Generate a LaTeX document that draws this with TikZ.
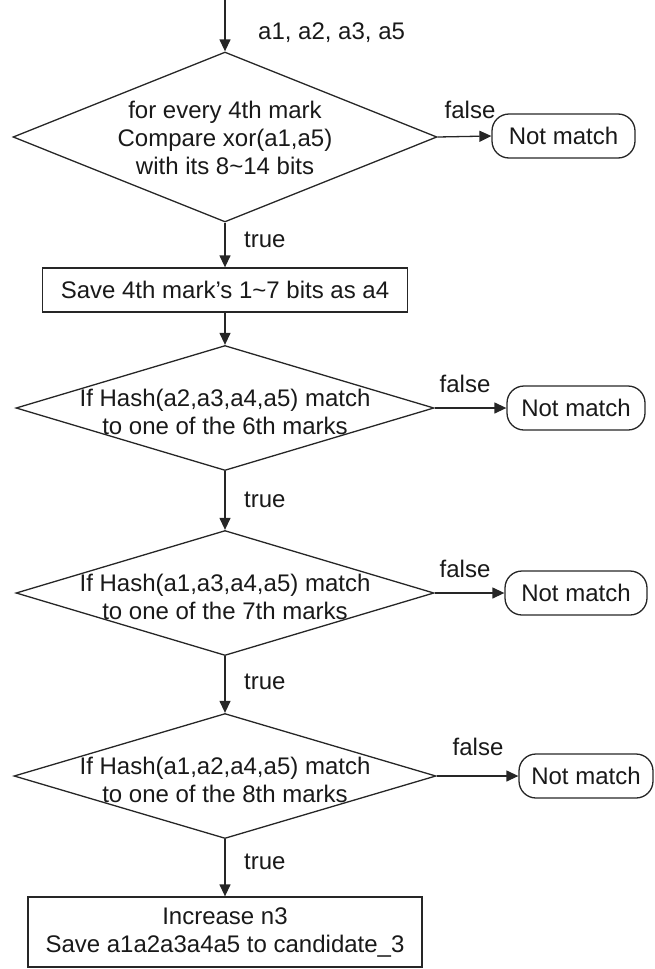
\documentclass[tikz,border=0pt]{standalone}
\usepackage{fontspec}
\setmainfont{Liberation Sans}
\usetikzlibrary{arrows.meta,shapes.geometric}
\begin{document}
\begin{tikzpicture}[x=1pt,y=-1pt,
  every node/.style={font=\fontsize{24}{28}\selectfont, text=black!90},
  line/.style={line width=1.3pt, draw=black!85},
  arr/.style={line, -{Triangle[length=12pt,width=11pt]}},
  decision/.style={diamond, line, inner sep=0pt, minimum width=#1},
  process/.style={rectangle, line, inner sep=0pt},
  terminal/.style={rectangle, line, rounded corners=17pt, inner sep=0pt, minimum height=44pt},
  lbl/.style={inner sep=0pt}
]
\useasboundingbox (0,0) rectangle (655,969);

% entry point
\coordinate (start) at (225,0);
\node[lbl, anchor=west] (inputs) at (258,33) {a1, a2, a3, a5};

% decision 1
\node[decision=424pt, minimum height=170pt] (d1) at (225,137) {};
\node[align=center] (t1) at (225,138) {for every 4th mark\\Compare xor(a1,a5)\\with its 8\textasciitilde14 bits};
\node[terminal, minimum width=143pt] (n1) at (563.5,136) {Not match};
\node[lbl] (f1) at (470,110) {false};

% save a4
\node[process, minimum width=365pt, minimum height=44pt] (s) at (225,290) {Save 4th mark's 1\textasciitilde7 bits as a4};
\node[lbl, anchor=west] (tr1) at (244,240) {true};

% decision 2
\node[decision=418pt, minimum height=125pt] (d2) at (225,408) {};
\node[align=center] (t2) at (225,412) {If Hash(a2,a3,a4,a5) match\\to one of the 6th marks};
\node[terminal, minimum width=138pt] (n2) at (576,408) {Not match};
\node[lbl] (f2) at (465,384) {false};

% decision 3
\node[lbl, anchor=west] (tr2) at (244,500) {true};
\node[decision=418pt, minimum height=125pt] (d3) at (225,593) {};
\node[align=center] (t3) at (225,597) {If Hash(a1,a3,a4,a5) match\\to one of the 7th marks};
\node[terminal, minimum width=142pt] (n3) at (576,593) {Not match};
\node[lbl] (f3) at (465,569) {false};

% decision 4
\node[lbl, anchor=west] (tr3) at (244,682) {true};
\node[decision=422pt, minimum height=125pt] (d4) at (225,776) {};
\node[align=center] (t4) at (225,780) {If Hash(a1,a2,a4,a5) match\\to one of the 8th marks};
\node[terminal, minimum width=134pt] (n4) at (586,776) {Not match};
\node[lbl] (f4) at (478,747) {false};

% final result
\node[lbl, anchor=west] (tr4) at (244,862) {true};
\node[process, minimum width=394pt, minimum height=70pt, align=center] (fin) at (225,932) {Increase n3\\Save a1a2a3a4a5 to candidate\_3};

% connectors
\draw[arr] (start) -- (d1.north);
\draw[arr] (d1.east) -- (n1.west);
\draw[arr] (d1.south) -- (s.north);
\draw[arr] (s.south) -- (d2.north);
\draw[arr] (d2.east) -- (n2.west);
\draw[arr] (d2.south) -- (d3.north);
\draw[arr] (d3.east) -- (n3.west);
\draw[arr] (d3.south) -- (d4.north);
\draw[arr] (d4.east) -- (n4.west);
\draw[arr] (d4.south) -- (fin.north);
\end{tikzpicture}
\end{document}
